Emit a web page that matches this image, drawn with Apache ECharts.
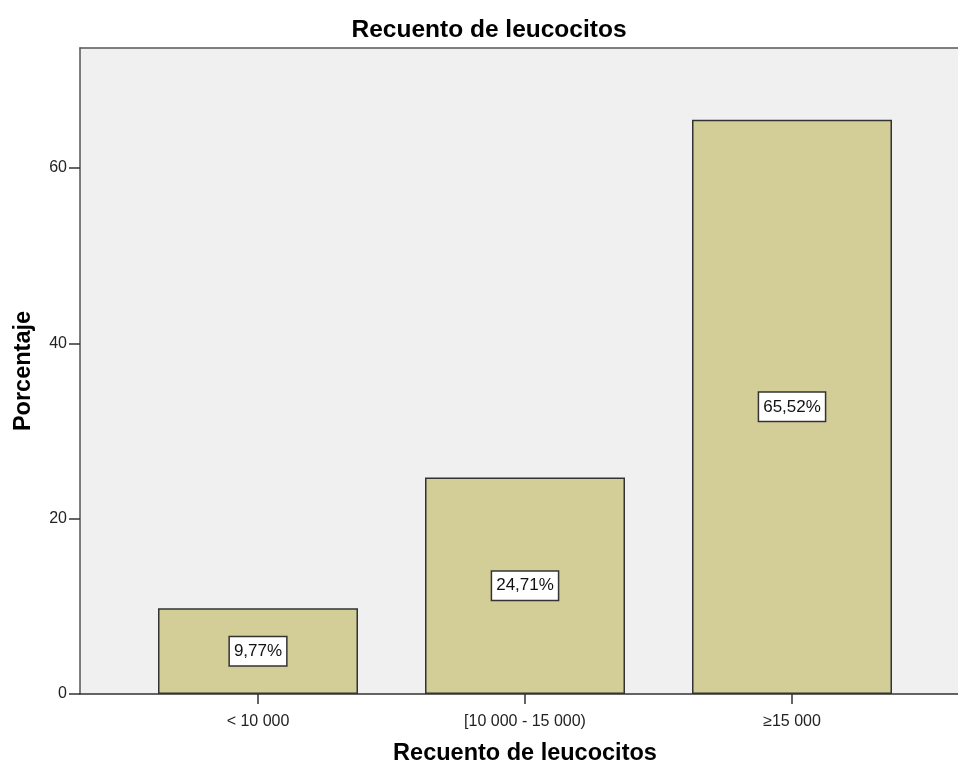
<!DOCTYPE html>
<html>
<head>
<meta charset="utf-8">
<script src="https://cdn.jsdelivr.net/npm/echarts@6/dist/echarts.min.js"></script>
<style>
  html, body { margin: 0; padding: 0; background: #fff; }
  #chart { width: 958px; height: 763px; }
</style>
</head>
<body>
<div id="chart"></div>
<script>
// datos
var categorias = ['< 10 000', '[10 000 - 15 000)', '\u226515 000'];
var porcentajes = [9.77, 24.71, 65.52];
var ticksY = [0, 20, 40, 60];

var FONT = 'Liberation Sans, Arial, sans-serif';
var Y_MAX = 73.7;

var chart = echarts.init(document.getElementById('chart'));

var option = {
    backgroundColor: '#ffffff',
    animation: false,
    title: {
        text: 'Recuento de leucocitos',
        left: 484,
        textAlign: 'center',
        top: 13,
        textStyle: { fontFamily: FONT, fontSize: 24.5, fontWeight: 'bold', color: '#000' }
    },
    grid: [
        // marco del gráfico (fondo gris)
        { left: 80, right: 0, top: 48, bottom: 69, show: true, backgroundColor: '#f0f0f0',
          borderWidth: 0, outerBoundsMode: 'none', containLabel: false },
        // zona de las barras
        { left: 124.5, right: 32.5, top: 48, bottom: 69, outerBoundsMode: 'none', containLabel: false }
    ],
    xAxis: [
        {
            gridIndex: 0, type: 'value', min: 0, max: 1,
            axisLine: { show: true, lineStyle: { color: '#333', width: 1.5 } },
            axisTick: { show: false }, axisLabel: { show: false }, splitLine: { show: false }
        },
        {
            gridIndex: 0, type: 'value', min: 0, max: 1, position: 'top',
            axisLine: { show: true, lineStyle: { color: '#555', width: 1.5 } },
            axisTick: { show: false }, axisLabel: { show: false }, splitLine: { show: false }
        },
        {
            gridIndex: 1, type: 'category', data: categorias,
            axisLine: { show: false },
            axisTick: { show: true, alignWithLabel: true, length: 10, lineStyle: { color: '#333', width: 1.5 } },
            axisLabel: { fontFamily: FONT, fontSize: 16, color: '#222', margin: 20 },
            name: 'Recuento de leucocitos',
            nameLocation: 'middle',
            nameGap: 48,
            nameTextStyle: { fontFamily: FONT, fontSize: 23.5, fontWeight: 'bold', color: '#000' }
        }
    ],
    yAxis: [
        {
            gridIndex: 0, type: 'value', min: 0, max: Y_MAX,
            axisLine: { show: true, lineStyle: { color: '#555', width: 1.5 } },
            axisTick: { show: true, length: 11, lineStyle: { color: '#333', width: 1.5 },
                customValues: ticksY },
            axisLabel: { fontFamily: FONT, fontSize: 16, color: '#222', margin: 13,
                customValues: ticksY },
            splitLine: { show: false },
            name: 'Porcentaje',
            nameLocation: 'middle',
            nameGap: 44,
            nameTextStyle: { fontFamily: FONT, fontSize: 23.5, fontWeight: 'bold', color: '#000' }
        },
        {
            gridIndex: 1, type: 'value', min: 0, max: Y_MAX, show: false
        }
    ],
    series: [{
        type: 'bar',
        xAxisIndex: 2,
        yAxisIndex: 1,
        data: porcentajes,
        barWidth: 200,
        itemStyle: { color: '#d3ce97', borderColor: '#333', borderWidth: 1.5 },
        label: {
            show: true,
            position: 'inside',
            formatter: function (p) { return p.value.toFixed(2).replace('.', ',') + '%'; },
            fontFamily: FONT,
            fontSize: 17,
            color: '#111',
            backgroundColor: '#ffffff',
            borderColor: '#333',
            borderWidth: 1.5,
            padding: [6, 4, 5, 4]
        }
    }]
};

chart.setOption(option);
</script>
</body>
</html>
